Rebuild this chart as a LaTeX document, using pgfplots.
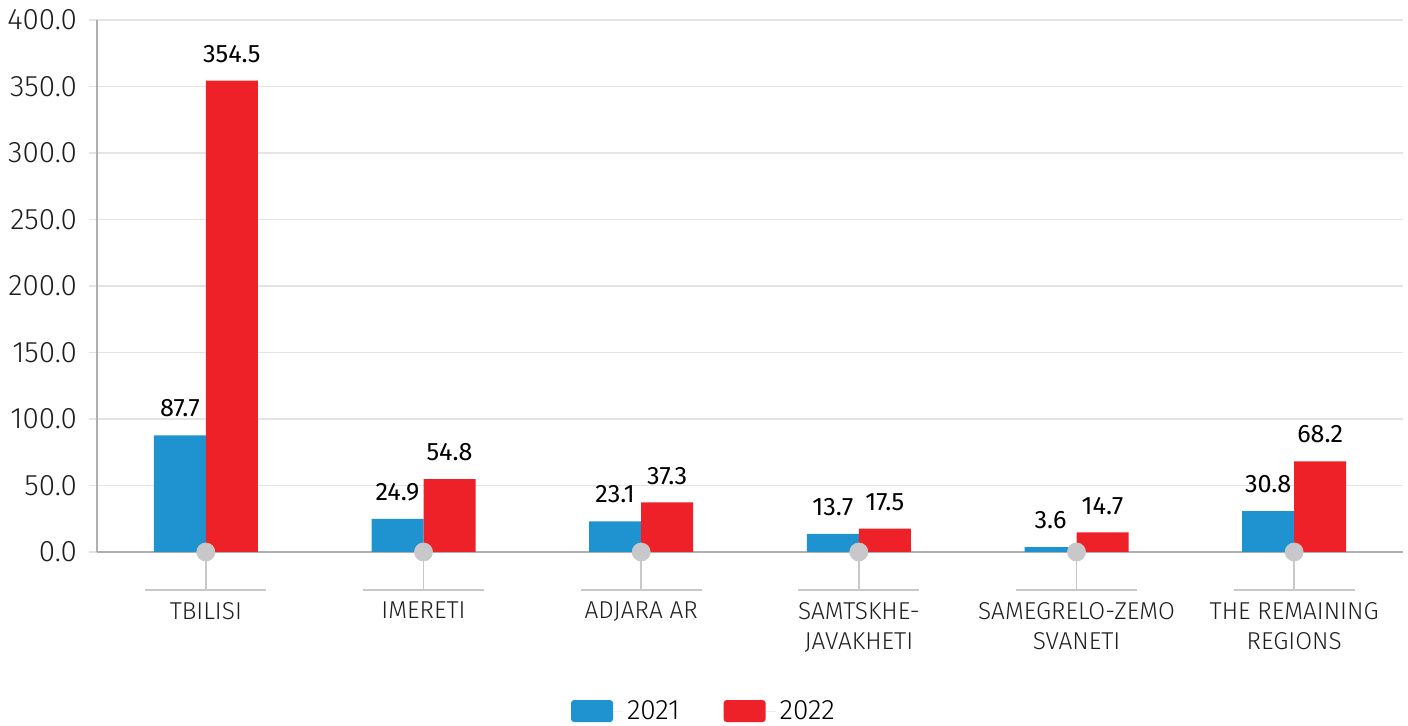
\documentclass[border=0pt]{standalone}
\usepackage{fontspec}
\setmainfont{Fira Sans}
\newfontfamily\light{Fira Sans Light}
\usepackage{pgfplots}
\pgfplotsset{compat=1.18}
\definecolor{blue21}{RGB}{30,147,208}
\definecolor{red22}{RGB}{237,33,39}
\definecolor{gridgray}{RGB}{228,228,228}
\definecolor{axisgray}{RGB}{175,175,175}
\definecolor{dotgray}{RGB}{200,200,202}
\definecolor{txt}{RGB}{30,30,30}
\begin{document}
\begin{tikzpicture}
\useasboundingbox (0,0) rectangle (704pt,363pt);
\begin{axis}[
  at={(48.5pt,87pt)}, anchor=south west,
  scale only axis, width=653pt, height=266pt,
  xmin=-0.5, xmax=5.5, ymin=0, ymax=400,
  clip=false,
  ybar, bar width=26pt,
  axis x line*=bottom, axis y line*=left,
  axis line style={-, axisgray, line width=0.8pt},
  xtick={0,...,5},
  xticklabels={TBILISI, IMERETI, ADJARA AR, SAMTSKHE-\\JAVAKHETI, SAMEGRELO-ZEMO\\SVANETI, THE REMAINING\\REGIONS},
  xtick style={draw=none},
  xticklabel style={align=center, yshift=-17.5pt, text=txt, font=\light\fontsize{12.2}{15}\selectfont},
  ytick={0,50,...,400},
  ytick style={draw=gridgray, line width=0.6pt},
  tick align=outside, major tick length=4pt,
  ymajorgrids, grid style={gridgray, line width=0.6pt},
  yticklabel style={text=txt, font=\light\fontsize{14.8}{16}\selectfont, xshift=-2.5pt},
  /pgf/number format/.cd, fixed, fixed zerofill, precision=1, assume math mode=true,
  /pgfplots/.cd,
  nodes near coords,
  every node near coord/.append style={font=\fontsize{12.6}{15}\selectfont, text=black, yshift=5.5pt},
  legend style={draw=none, at={(axis description cs:0.4655,-0.299)}, anchor=center,
    legend columns=2, font=\light\fontsize{14}{15}\selectfont,
    /tikz/every even column/.append style={column sep=20pt}},
  legend image code/.code={\fill[rounded corners=1.5pt] (0pt,-5.5pt) rectangle (21pt,5.5pt); \path (0pt,0pt) -- (26pt,0pt);},
]
\addplot[fill=blue21, draw=none, bar shift=-13pt] coordinates {(0,87.7) (1,24.9) (2,23.1) (3,13.7) (4,3.6) (5,30.8)};
\addplot[fill=red22, draw=none, bar shift=13pt] coordinates {(0,354.5) (1,54.8) (2,37.3) (3,17.5) (4,14.7) (5,68.2)};
\legend{2021, 2022}
\pgfplotsinvokeforeach{0,...,5}{
  \draw[dotgray, line width=0.8pt] (axis cs:#1,0) -- ++(0pt,-19pt);
  \draw[dotgray, line width=0.8pt] ([xshift=-30.25pt,yshift=-19pt]axis cs:#1,0) -- ++(60.5pt,0pt);
}
\addplot[only marks, mark=*, mark size=4.5pt, dotgray, mark options={draw=none, fill=dotgray}, bar shift=0pt, nodes near coords={}, forget plot] coordinates {(0,0) (1,0) (2,0) (3,0) (4,0) (5,0)};
\end{axis}
\end{tikzpicture}
\end{document}
